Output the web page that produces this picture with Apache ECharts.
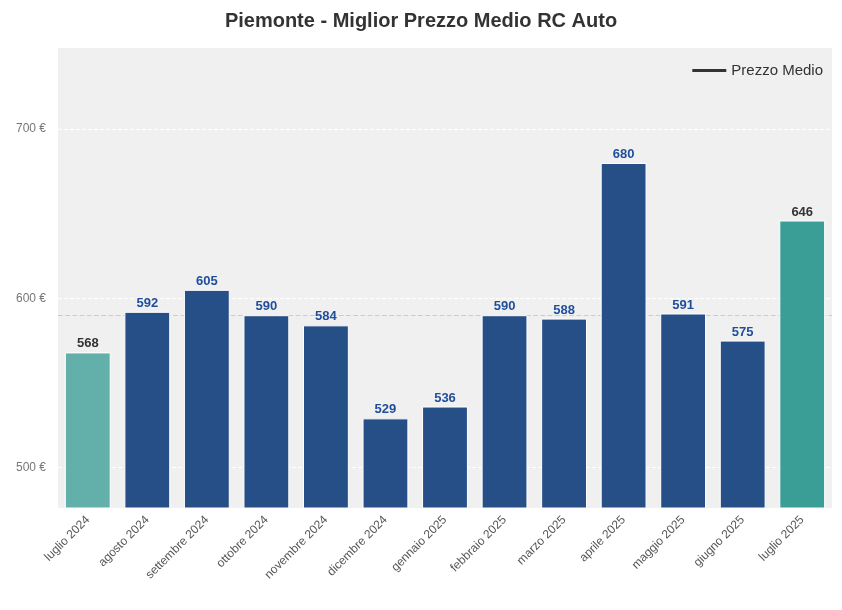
<!DOCTYPE html>
<html><head><meta charset="utf-8">
<script src="https://cdn.jsdelivr.net/npm/echarts@6/dist/echarts.min.js"></script>
<style>html,body{margin:0;padding:0;background:#fff}#c{width:842px;height:610px}</style>
</head><body><div id="c"></div>
<script>
const categories=['luglio 2024','agosto 2024','settembre 2024','ottobre 2024','novembre 2024','dicembre 2024','gennaio 2025','febbraio 2025','marzo 2025','aprile 2025','maggio 2025','giugno 2025','luglio 2025'];
const values=[568,592,605,590,584,529,536,590,588,680,591,575,646];
const meanValue=590;
const yTicks=[500,600,700];
const chart=echarts.init(document.getElementById('c'));
const data=values.map((v,i)=>{
  let color='#274f87',lab='#1f4e9c';
  if(i===0){color='#63afa9';lab='#333';}
  if(i===values.length-1){color='#3a9e96';lab='#333';}
  return {value:v,itemStyle:{color},label:{color:lab}};
});
chart.setOption({
  animation:false,
  title:{text:'Piemonte - Miglior Prezzo Medio RC Auto',left:'center',top:6,textStyle:{fontFamily:'Liberation Sans',fontSize:20,fontWeight:'bold',color:'#333'}},
  legend:{right:14,top:58,itemWidth:34,itemHeight:3,textStyle:{fontFamily:'Liberation Sans',fontSize:15,color:'#333'},data:[{name:'Prezzo Medio',icon:'rect'}]},
  grid:{left:58,right:10,top:48,bottom:102,backgroundColor:'#f0f0f0',show:true,borderWidth:0},
  xAxis:{type:'category',data:categories,axisLine:{show:false},axisTick:{show:false},
    axisLabel:{rotate:45,color:'#555',fontFamily:'Liberation Sans',fontSize:12,interval:0,margin:10}},
  yAxis:{type:'value',min:476,max:748,splitLine:{show:false},axisLine:{show:false},axisTick:{show:false},
    axisLabel:{customValues:yTicks,formatter:v=>v+' €',color:'#777',fontFamily:'Liberation Sans',fontSize:12,margin:12}},
  series:[
    {type:'bar',data:data,barCategoryGap:'23%',itemStyle:{borderColor:'#fff',borderWidth:1},
     label:{show:true,position:'top',distance:2,fontFamily:'Liberation Sans',fontWeight:'bold',fontSize:13},
     markLine:{silent:true,symbol:'none',label:{show:false},z:1,
       data:yTicks.map(t=>({yAxis:t,lineStyle:{color:'#fff',type:'dashed',width:1}})).concat([{yAxis:meanValue,lineStyle:{color:'#c8ccd4',type:'dashed',width:1.2}}])}},
    {type:'line',name:'Prezzo Medio',data:[],itemStyle:{color:'#333'},lineStyle:{color:'#333'}}
  ]
});
</script></body></html>
